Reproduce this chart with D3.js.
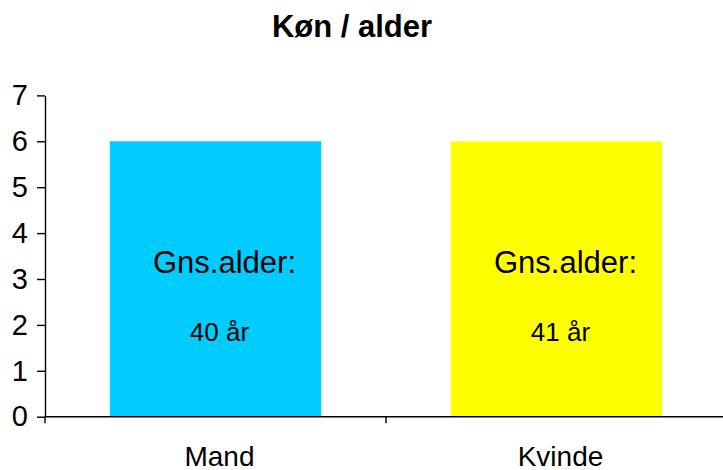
<!DOCTYPE html>
<html>
<head>
<meta charset="utf-8">
<script src="https://cdn.jsdelivr.net/npm/d3@7"></script>
<style>
  body { margin: 0; background: #fff; }
  text { font-family: "Liberation Sans", Arial, sans-serif; fill: #000; }
</style>
</head>
<body>
<div id="chart"></div>
<script>
var categories = ["Mand", "Kvinde"];
var counts = [6, 6];
var avgAges = ["40 år", "41 år"];
var barColors = ["#00ccff", "#ffff00"];
var yTicks = [0, 1, 2, 3, 4, 5, 6, 7];

var width = 723, height = 470;

var svg = d3.select("#chart").append("svg")
            .attr("width", width)
            .attr("height", height);

var x = d3.scaleBand()
          .domain(categories)
          .range([45, 727])
          .paddingInner(0.38)
          .paddingOuter(0.19);

var y = d3.scaleLinear()
          .domain([0, 7])
          .range([416.7, 95.4]);

// title
svg.append("text")
   .attr("x", 352)
   .attr("y", 37)
   .attr("text-anchor", "middle")
   .style("font-size", "31px")
   .style("font-weight", "bold")
   .text("Køn / alder");

// bars
svg.selectAll("rect.bar")
   .data(counts)
   .enter().append("rect")
   .attr("class", "bar")
   .attr("x", function(d, i){ return x(categories[i]); })
   .attr("y", function(d){ return y(d); })
   .attr("width", x.bandwidth())
   .attr("height", function(d){ return y(0) - y(d); })
   .attr("fill", function(d, i){ return barColors[i]; });

// labels inside bars
svg.selectAll("text.gns")
   .data(categories)
   .enter().append("text")
   .attr("class", "gns")
   .attr("x", function(d){ return x(d) + x.bandwidth() / 2 + 9; })
   .attr("y", 273)
   .attr("text-anchor", "middle")
   .style("font-size", "31px")
   .text("Gns.alder:");

svg.selectAll("text.age")
   .data(avgAges)
   .enter().append("text")
   .attr("class", "age")
   .attr("x", function(d, i){ return x(categories[i]) + x.bandwidth() / 2 + 4; })
   .attr("y", 341)
   .attr("text-anchor", "middle")
   .style("font-size", "26px")
   .text(function(d){ return d; });

// y axis
var yAxis = svg.append("g")
   .attr("transform", "translate(45,0)")
   .call(d3.axisLeft(y).tickValues(yTicks).tickFormat(d3.format("d"))
           .tickSize(8).tickPadding(9).tickSizeOuter(0));
yAxis.select(".domain").attr("stroke", "#000").attr("stroke-width", 1.4);
yAxis.selectAll(".tick line").attr("stroke", "#000").attr("stroke-width", 1.4);
yAxis.selectAll(".tick text")
   .style("font-size", "29px")
   .style("font-family", "'Liberation Sans', Arial, sans-serif")
   .attr("fill", "#000");

// x axis line + category separators
var xAxisG = svg.append("g");
xAxisG.append("line")
   .attr("x1", 45).attr("x2", width)
   .attr("y1", y(0)).attr("y2", y(0))
   .attr("stroke", "#000").attr("stroke-width", 1.4);

var bounds = [x.range()[0]].concat(categories.map(function(d){ return x(d) - x.step() * x.paddingInner() / 2 + x.step(); }));
xAxisG.selectAll("line.sep")
   .data(bounds)
   .enter().append("line")
   .attr("class", "sep")
   .attr("x1", function(d){ return d; })
   .attr("x2", function(d){ return d; })
   .attr("y1", y(0))
   .attr("y2", y(0) + 6.5)
   .attr("stroke", "#000").attr("stroke-width", 1.4);

xAxisG.selectAll("text.cat")
   .data(categories)
   .enter().append("text")
   .attr("class", "cat")
   .attr("x", function(d){ return x(d) + x.bandwidth() / 2 + 4; })
   .attr("y", 466)
   .attr("text-anchor", "middle")
   .style("font-size", "28px")
   .text(function(d){ return d; });
</script>
</body>
</html>
